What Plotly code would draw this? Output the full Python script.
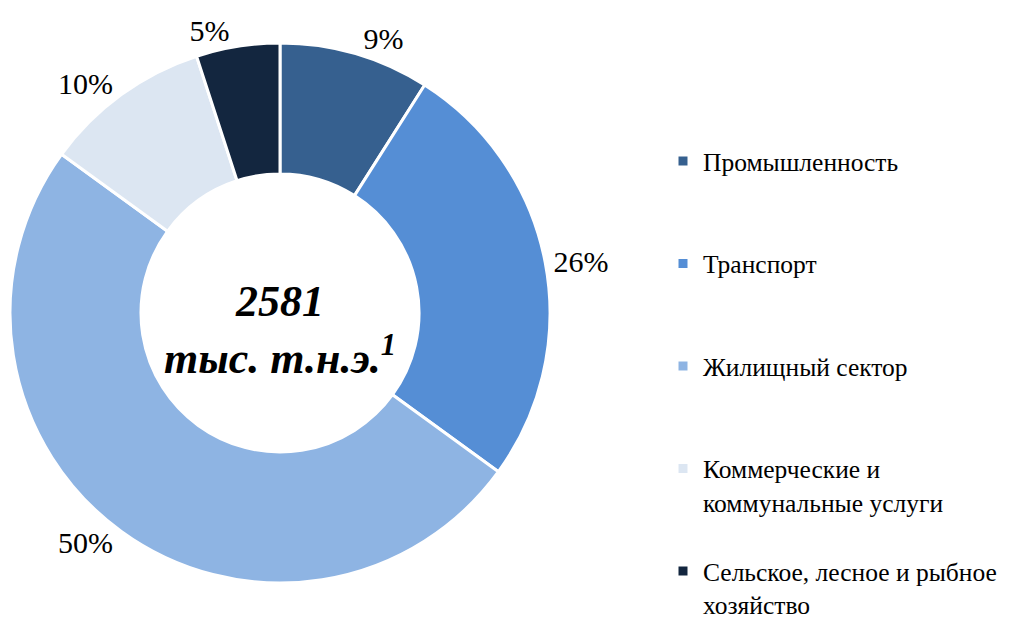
import plotly.graph_objects as go

categories = ["Промышленность", "Транспорт", "Жилищный сектор",
              "Коммерческие и<br>коммунальные услуги",
              "Сельское, лесное и рыбное<br>хозяйство"]
values = [9, 26, 50, 10, 5]
colors = ["#36608F", "#558ED5", "#8EB4E3", "#DCE6F2", "#13263F"]
center_total = "2581"
center_unit = "тыс. т.н.э."

W, H = 1018, 618
cx, cy, R = 280, 313, 270

# pad legend labels with blank lines to reproduce the wide vertical spacing
legend_labels = []
for i, c in enumerate(categories):
    n = c.count("<br>") + 1
    pad = 0 if i == len(categories) - 1 else 3 - n
    legend_labels.append(c + "<br>\u00a0" * pad)

serif = "Times New Roman, Liberation Serif, serif"

fig = go.Figure(go.Pie(
    labels=legend_labels,
    values=values,
    hole=0.515,
    sort=False,
    direction="clockwise",
    rotation=0,
    marker=dict(colors=colors, line=dict(color="white", width=3)),
    texttemplate="%{percent:.0%}",
    textposition="outside",
    textfont=dict(family=serif, size=30, color="black"),
    domain=dict(x=[(cx - R) / W, (cx + R) / W], y=[1 - (cy + R) / H, 1 - (cy - R) / H]),
    showlegend=True,
))

fig.update_layout(
    width=W, height=H,
    margin=dict(l=0, r=0, t=0, b=0, autoexpand=False),
    paper_bgcolor="white",
    plot_bgcolor="white",
    font=dict(family=serif, color="black"),
    legend=dict(
        x=663 / W, xanchor="left",
        y=1 - 138 / H, yanchor="top",
        valign="top",
        font=dict(family=serif, size=25.5, color="black"),
        bgcolor="rgba(0,0,0,0)",
    ),
    annotations=[dict(
        text="<b><i>" + center_total + "<br>" + center_unit + "<sup>1</sup></i></b>",
        x=cx / W, y=1 - 330 / H, xref="paper", yref="paper",
        xanchor="center", yanchor="middle",
        showarrow=False, font=dict(family=serif, size=44, color="black"),
        align="center",
    )],
)

fig.write_html("out.html", config={"displayModeBar": False},
               post_script="document.body.style.margin='0';")
